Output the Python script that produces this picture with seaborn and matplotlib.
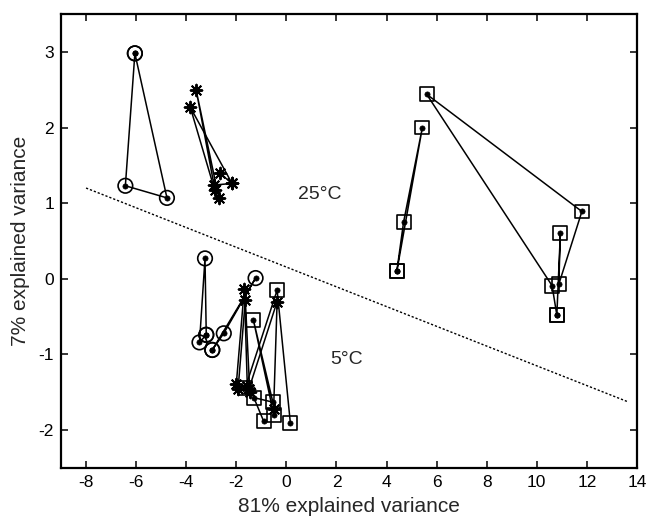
import matplotlib
matplotlib.use("Agg")
import matplotlib.pyplot as plt
import seaborn as sns
import pandas as pd

# ---------------- data (PCA scores) ----------------
# 25 degC, circles
c25_x = [-6.05, -6.43, -4.77, -6.05]
c25_y = [2.98, 1.23, 1.07, 2.98]
# 25 degC, stars (two paths)
s25a_x = [-2.67, -2.17, -2.89, -3.60, -2.70]
s25a_y = [1.40, 1.26, 1.24, 2.49, 1.07]
s25b_x = [-2.86, -3.84, -2.17]
s25b_y = [1.17, 2.27, 1.26]
# 25 degC, squares (two paths)
q25a_x = [4.41, 4.68, 5.43, 4.41]
q25a_y = [0.10, 0.75, 2.00, 0.10]
q25b_x = [10.80, 10.61, 5.60, 11.80, 10.88, 10.94, 10.80]
q25b_y = [-0.48, -0.09, 2.44, 0.89, -0.07, 0.60, -0.48]
# 5 degC, circles (two paths)
c5a_x = [-3.20, -3.25, -3.47, -3.20]
c5a_y = [-0.74, 0.27, -0.84, -0.74]
c5b_x = [-2.96, -2.50, -1.23, -2.96]
c5b_y = [-0.94, -0.72, 0.01, -0.94]
# 5 degC, stars (three paths)
s5a_x = [-2.00, -1.68, -1.56]
s5a_y = [-1.39, -0.13, -1.42]
s5b_x = [-1.93, -1.64, -1.46]
s5b_y = [-1.46, -0.28, -1.50]
s5c_x = [-0.51, -0.37, -1.49]
s5c_y = [-1.72, -0.30, -1.45]
# 5 degC, squares (two paths)
q5a_x = [-1.64, -0.37, 0.16]
q5a_y = [-1.44, -0.15, -1.91]
q5b_x = [-0.91, -1.30, -0.54, -1.32, -0.50]
q5b_y = [-1.88, -1.57, -1.63, -0.54, -1.80]
# separating line
sep_x = [-8.0, 13.6]
sep_y = [1.20, -1.62]

x_ticks = [-8, -6, -4, -2, 0, 2, 4, 6, 8, 10, 12, 14]
y_ticks = [-2, -1, 0, 1, 2, 3]
x_label = "81% explained variance"
y_label = "7% explained variance"
labels = ["25°C", "5°C"]
label_x = [1.32, 2.40]
label_y = [1.12, -1.07]

# ---------------- plotting ----------------
sns.set_style("ticks")
plt.rcParams["font.family"] = ["Liberation Sans", "DejaVu Sans"]

fig = plt.figure(figsize=(6.47, 5.17), dpi=100)
ax = fig.add_axes([0.0943, 0.0948, 0.8902, 0.8781])

LW = 1.1

def path(xs, ys):
    d = pd.DataFrame({"x": xs, "y": ys})
    sns.lineplot(data=d, x="x", y="y", sort=False, estimator=None,
                 color="black", lw=LW, ax=ax)

def open_marks(xs, ys, marker, size):
    d = pd.DataFrame({"x": xs, "y": ys})
    sns.scatterplot(data=d, x="x", y="y", marker=marker, s=size,
                    color="white", edgecolor="black", linewidth=1.2,
                    ax=ax, zorder=3)
    ax.collections[-1].set_facecolor("none")
    sns.scatterplot(data=d, x="x", y="y", marker="o", s=14,
                    color="black", edgecolor="black", linewidth=0.5,
                    ax=ax, zorder=4)

def star_marks(xs, ys):
    d = pd.DataFrame({"x": xs, "y": ys})
    sns.scatterplot(data=d, x="x", y="y", marker=(8, 2, 0), s=70,
                    color="black", edgecolor="black", linewidth=1.4,
                    ax=ax, zorder=3)

# separating dotted line
sep = pd.DataFrame({"x": sep_x, "y": sep_y})
sns.lineplot(data=sep, x="x", y="y", sort=False, estimator=None,
             color="black", lw=1.0, linestyle=(0, (1.6, 1.4)), ax=ax)

for xs, ys in [(c25_x, c25_y), (s25a_x, s25a_y), (s25b_x, s25b_y),
               (q25a_x, q25a_y), (q25b_x, q25b_y),
               (c5a_x, c5a_y), (c5b_x, c5b_y),
               (s5a_x, s5a_y), (s5b_x, s5b_y), (s5c_x, s5c_y),
               (q5a_x, q5a_y), (q5b_x, q5b_y)]:
    path(xs, ys)

for xs, ys in [(c25_x, c25_y), (c5a_x, c5a_y), (c5b_x, c5b_y)]:
    open_marks(xs, ys, "o", 110)
for xs, ys in [(q25a_x, q25a_y), (q25b_x, q25b_y), (q5a_x, q5a_y), (q5b_x, q5b_y)]:
    open_marks(xs, ys, "s", 100)
for xs, ys in [(s25a_x, s25a_y), (s25b_x, s25b_y),
               (s5a_x, s5a_y), (s5b_x, s5b_y), (s5c_x, s5c_y)]:
    star_marks(xs, ys)

for t, lx, ly in zip(labels, label_x, label_y):
    ax.text(lx, ly, t, ha="center", va="center", fontsize=14)

ax.set_xlim(-9, 14)
ax.set_ylim(-2.5, 3.5)
ax.set_xticks(x_ticks)
ax.set_yticks(y_ticks)
ax.set_xticklabels([str(v) for v in x_ticks], fontsize=12.5)
ax.set_yticklabels([str(v) for v in y_ticks], fontsize=12.5)
ax.set_xlabel(x_label, fontsize=15, labelpad=5)
ax.set_ylabel(y_label, fontsize=15, labelpad=6)
ax.tick_params(direction="in", top=True, right=True, length=5, width=1.1,
               color="black", labelcolor="black")
ax.tick_params(axis="x", pad=5)
ax.tick_params(axis="y", pad=5)
for sp in ax.spines.values():
    sp.set_visible(True)
    sp.set_linewidth(1.6)
    sp.set_color("black")

fig.savefig("out.png", dpi=100)
